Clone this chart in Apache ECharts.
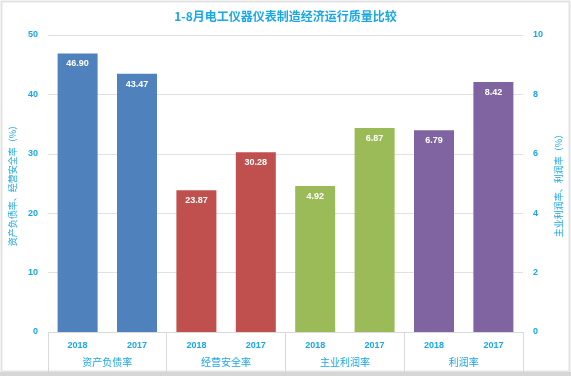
<!DOCTYPE html>
<html>
<head>
<meta charset="utf-8">
<script src="https://cdn.jsdelivr.net/npm/echarts@6/dist/echarts.min.js"></script>
<style>
	html, body { margin: 0; padding: 0; background: #fff; }
	#chart { width: 571px; height: 376px; }
</style>
</head>
<body>
<div id="chart"></div>
<script>
const titleText = '1-8月电工仪器仪表制造经济运行质量比较';
const years = ['2018', '2017', '2018', '2017', '2018', '2017', '2018', '2017'];
const groups = ['资产负债率', '经营安全率', '主业利润率', '利润率'];
// left axis (资产负债率, 经营安全率)
const leftValues = [46.90, 43.47, 23.87, 30.28, '-', '-', '-', '-'];
// right axis (主业利润率, 利润率)
const rightValues = ['-', '-', '-', '-', 4.92, 6.87, 6.79, 8.42];
const groupColors = ['#4F81BD', '#C0504D', '#9BBB59', '#8064A2'];

const textColor = '#1AA7E6';
const numFont = 'Liberation Sans';
const chart = echarts.init(document.getElementById('chart'));

const barSeries = (values, axisIndex) => ({
	type: 'bar',
	xAxisIndex: 0,
	yAxisIndex: axisIndex,
	barWidth: 40,
	barGap: '-100%',
	data: values,
	itemStyle: {
		color: p => groupColors[Math.floor(p.dataIndex / 2)]
	},
	label: {
		show: true,
		position: 'insideTop',
		distance: 6,
		color: '#fff',
		fontWeight: 'bold',
		fontSize: 9,
		fontFamily: numFont,
		formatter: p => p.value.toFixed(2)
	}
});

chart.setOption({
	animation: false,
	title: {
		text: titleText,
		left: 'center',
		top: 5,
		textStyle: {
			color: textColor,
			fontSize: 12,
			fontWeight: 'bold',
			fontFamily: 'Noto Sans CJK SC'
		}
	},
	graphic: [{
		type: 'rect',
		shape: { x: 1.5, y: 1.5, width: 568, height: 370 },
		style: { fill: 'none', stroke: '#E3E3E3', lineWidth: 2 },
		silent: true
	}, {
		type: 'rect',
		shape: { x: 0, y: 372, width: 571, height: 4 },
		style: { fill: '#D6D6D6' },
		silent: true
	}],
	grid: {
		left: 46,
		right: 46,
		top: 35,
		bottom: 44
	},
	xAxis: [{
		type: 'category',
		data: years,
		position: 'bottom',
		axisLine: { show: true, lineStyle: { color: '#D9D9D9' } },
		axisTick: { show: false },
		axisLabel: {
			color: textColor,
			fontSize: 9,
			fontWeight: 'bold',
			fontFamily: numFont,
			margin: 9
		}
	}, {
		type: 'category',
		data: groups,
		position: 'bottom',
		axisLine: { show: false },
		axisTick: {
			show: true,
			length: 40,
			alignWithLabel: false,
			lineStyle: { color: '#D9D9D9' }
		},
		axisLabel: {
			color: textColor,
			fontSize: 10,
			fontFamily: 'Noto Sans CJK SC',
			margin: 25
		}
	}],
	yAxis: [{
		type: 'value',
		min: 0,
		max: 50,
		interval: 10,
		name: '资产负债率、经营安全率（%）',
		nameLocation: 'middle',
		nameGap: 22,
		nameRotate: 90,
		nameTextStyle: {
			color: textColor,
			fontSize: 9,
			fontFamily: 'Noto Sans CJK SC'
		},
		axisLine: { show: false },
		axisTick: { show: false },
		splitLine: { lineStyle: { color: '#E1E1E1' } },
		axisLabel: {
			color: textColor,
			fontSize: 9,
			fontWeight: 'bold',
			fontFamily: numFont,
			margin: 10
		}
	}, {
		type: 'value',
		min: 0,
		max: 10,
		interval: 2,
		name: '主业利润率、利润率（%）',
		nameLocation: 'middle',
		nameGap: 20,
		nameRotate: 90,
		nameTextStyle: {
			color: textColor,
			fontSize: 9,
			fontFamily: 'Noto Sans CJK SC'
		},
		axisLine: { show: false },
		axisTick: { show: false },
		splitLine: { show: false },
		axisLabel: {
			color: textColor,
			fontSize: 9,
			fontWeight: 'bold',
			fontFamily: numFont,
			margin: 10
		}
	}],
	series: [
		barSeries(leftValues, 0),
		barSeries(rightValues, 1)
	]
});
</script>
</body>
</html>
